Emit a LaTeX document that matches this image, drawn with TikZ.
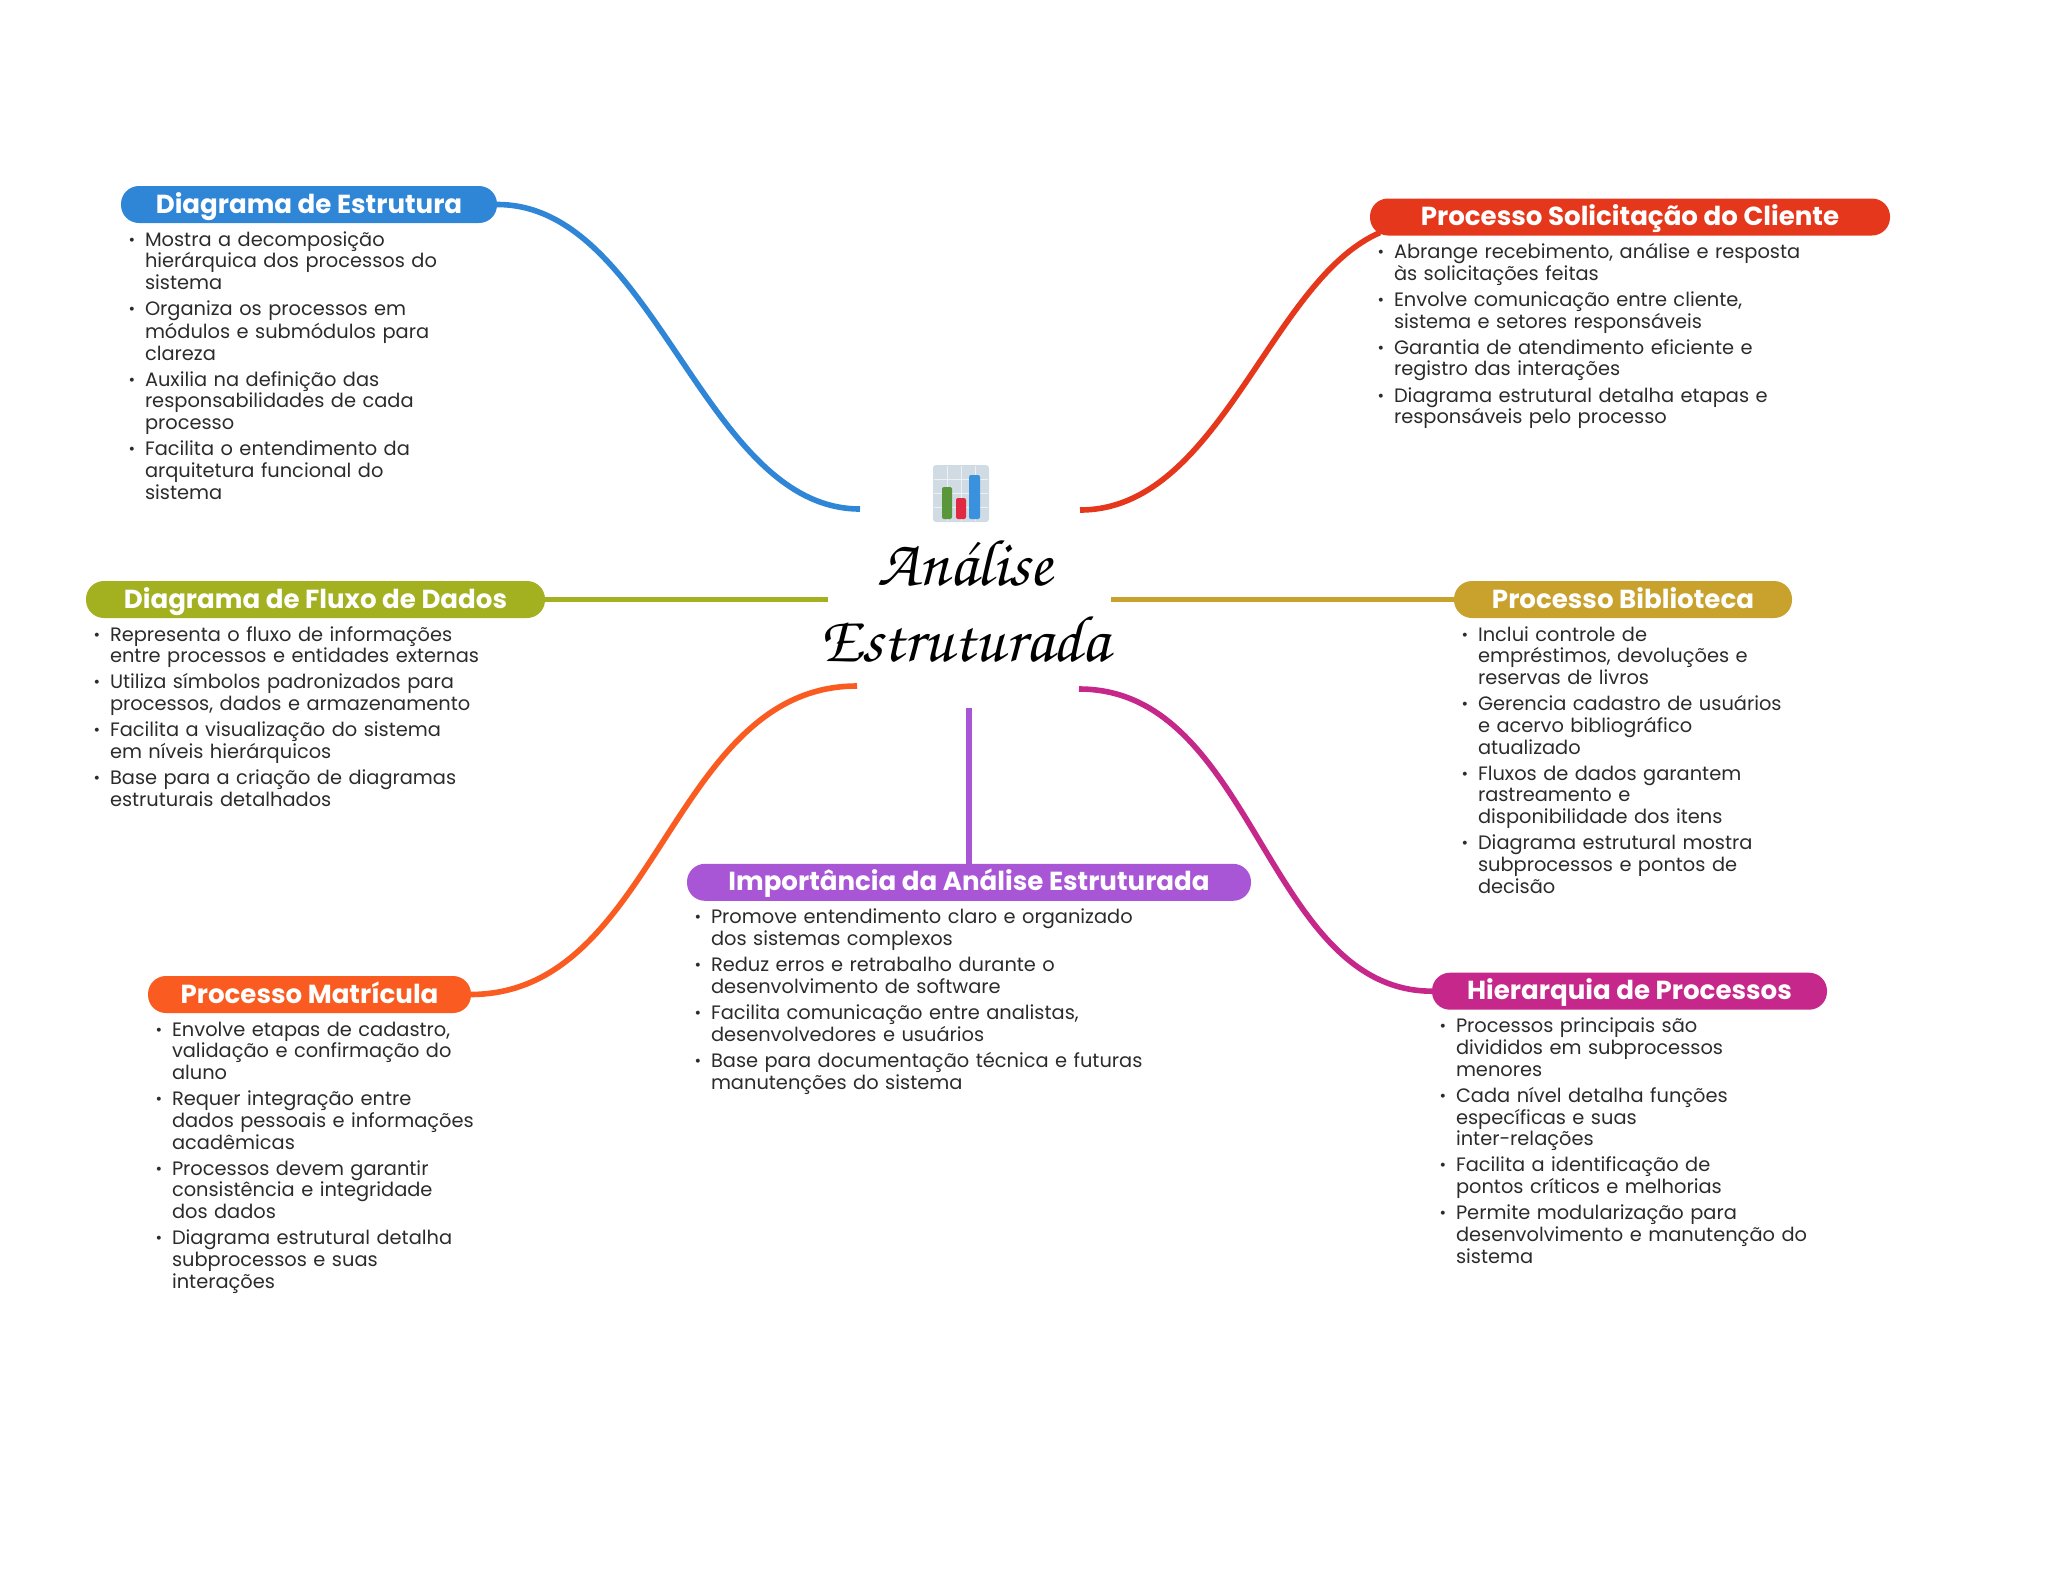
\documentclass[tikz,border=0pt]{standalone}
\usepackage{fontspec}
\setmainfont{Poppins}
\usetikzlibrary{positioning,backgrounds}
\definecolor{mmblue}{RGB}{47,134,214}
\definecolor{mmred}{RGB}{229,55,27}
\definecolor{mmolive}{RGB}{163,176,31}
\definecolor{mmgold}{RGB}{201,162,46}
\definecolor{mmorange}{RGB}{249,91,32}
\definecolor{mmpurple}{RGB}{169,86,214}
\definecolor{mmmagenta}{RGB}{198,39,138}
\definecolor{mmtext}{RGB}{43,43,43}
\definecolor{mmgrid}{RGB}{209,219,227}
\definecolor{mmbargreen}{RGB}{90,150,58}
\definecolor{mmbarred}{RGB}{224,42,66}
\definecolor{mmbarblue}{RGB}{58,146,222}
\newcommand{\bitem}[1]{\par\lineskip=0pt\noindent\hbox to 24pt{\hskip 7.5pt\raisebox{1pt}{\fontsize{16}{16}\selectfont •}\hfil}\parbox[t]{480pt}{\strut#1\strut}\par\vspace{4.4pt}}
\tikzset{
  headnode/.style={rectangle, rounded corners=18pt, minimum height=37pt, inner sep=0pt, text height=21pt, text depth=4pt, text=white, font=\fontsize{26.1}{30}\selectfont\bfseries},
  bodynode/.style={anchor=north west, inner sep=0pt, text width=520pt, align=left, text=mmtext, font=\fontsize{19.4}{21.7}\selectfont},
  branch/.style={line width=5.6pt},
}
\begin{document}
\begin{tikzpicture}[x=1pt,y=-1pt]
\useasboundingbox (0,0) rectangle (2048,1569);

% title and icon
\fill[mmgrid, rounded corners=3pt] (933,465) rectangle (989,522);
\foreach \gx in {947,961,975} {\draw[white!60!mmgrid, line width=1pt] (\gx,466) -- (\gx,521);}
\foreach \gy in {479,493,507} {\draw[white!60!mmgrid, line width=1pt] (934,\gy) -- (988,\gy);}
\fill[mmbargreen, rounded corners=2pt] (942,487) rectangle (952,519);
\fill[mmbarred, rounded corners=2pt] (956,498) rectangle (966,519);
\fill[mmbarblue, rounded corners=2pt] (969,475) rectangle (980,519);
\node[font=\fontencoding{T1}\fontfamily{pzc}\fontseries{mb}\fontshape{it}\fontsize{66}{76}\selectfont, align=center, inner sep=0pt] (titulo) at (965,600) {An\'alise\\Estruturada};

% branch heads
\node[headnode, fill=mmblue, minimum width=376pt] (estrutura) at (309,204.5) {Diagrama de Estrutura};
\node[headnode, fill=mmred, minimum width=520pt] (solicitacao) at (1630,217) {Processo Solicitação do Cliente};
\node[headnode, fill=mmolive, minimum width=459pt] (fluxo) at (315.5,599.5) {Diagrama de Fluxo de Dados};
\node[headnode, fill=mmgold, minimum width=338pt] (biblioteca) at (1623,599.5) {Processo Biblioteca};
\node[headnode, fill=mmorange, minimum width=323pt] (matricula) at (309.5,994.5) {Processo Matrícula};
\node[headnode, fill=mmpurple, minimum width=564pt] (importancia) at (969,882.3) {Importância da Análise Estruturada};
\node[headnode, fill=mmmagenta, minimum width=395pt] (hierarquia) at (1629.5,991.2) {Hierarquia de Processos};

% free ends next to the title
\coordinate (estruturaend) at (860,509);
\coordinate (solicitacaoend) at (1080,510);
\coordinate (fluxoend) at (828,599.5);
\coordinate (bibliotecaend) at (1111,599.5);
\coordinate (matriculaend) at (857,686);
\coordinate (importanciaend) at (969,708);
\coordinate (hierarquiaend) at (1079,689);

\begin{scope}[on background layer]
\draw[branch, color=mmblue] (estrutura.east) .. controls (655,204.5) and (703,509) .. (estruturaend);
\draw[branch, color=mmred] (solicitacaoend) .. controls (1220,510) and (1270,280) .. ([xshift=10pt,yshift=3pt]solicitacao.south west);
\draw[branch, color=mmolive] (fluxo.east) -- (fluxoend);
\draw[branch, color=mmgold] (biblioteca.west) -- (bibliotecaend);
\draw[branch, color=mmorange] (matricula.east) .. controls (658,993.5) and (670,686) .. (matriculaend);
\draw[branch, color=mmpurple] (importancia.north) -- (importanciaend);
\draw[branch, color=mmmagenta] (hierarquia.west) .. controls (1265,990.5) and (1255,689) .. (hierarquiaend);
\end{scope}

% branch texts
\node[bodynode, below right=1pt and 0pt of estrutura.south west] (estruturatxt) {%
\bitem{Mostra a decomposição\\hierárquica dos processos do\\sistema}
\bitem{Organiza os processos em\\módulos e submódulos para\\clareza}
\bitem{Auxilia na definição das\\responsabilidades de cada\\processo}
\bitem{Facilita o entendimento da\\arquitetura funcional do\\sistema}};

\node[bodynode, below right=1pt and 0pt of solicitacao.south west] (solicitacaotxt) {%
\bitem{Abrange recebimento, análise e resposta\\às solicitações feitas}
\bitem{Envolve comunicação entre cliente,\\sistema e setores responsáveis}
\bitem{Garantia de atendimento eficiente e\\registro das interações}
\bitem{Diagrama estrutural detalha etapas e\\responsáveis pelo processo}};

\node[bodynode, below right=1pt and 0pt of fluxo.south west] (fluxotxt) {%
\bitem{Representa o fluxo de informações\\entre processos e entidades externas}
\bitem{Utiliza símbolos padronizados para\\processos, dados e armazenamento}
\bitem{Facilita a visualização do sistema\\em níveis hierárquicos}
\bitem{Base para a criação de diagramas\\estruturais detalhados}};

\node[bodynode, below right=1pt and 0pt of biblioteca.south west] (bibliotecatxt) {%
\bitem{Inclui controle de\\empréstimos, devoluções e\\reservas de livros}
\bitem{Gerencia cadastro de usuários\\e acervo bibliográfico\\atualizado}
\bitem{Fluxos de dados garantem\\rastreamento e\\disponibilidade dos itens}
\bitem{Diagrama estrutural mostra\\subprocessos e pontos de\\decisão}};

\node[bodynode, below right=1pt and 0pt of matricula.south west] (matriculatxt) {%
\bitem{Envolve etapas de cadastro,\\validação e confirmação do\\aluno}
\bitem{Requer integração entre\\dados pessoais e informações\\acadêmicas}
\bitem{Processos devem garantir\\consistência e integridade\\dos dados}
\bitem{Diagrama estrutural detalha\\subprocessos e suas\\interações}};

\node[bodynode, below right=1pt and 0pt of importancia.south west] (importanciatxt) {%
\bitem{Promove entendimento claro e organizado\\dos sistemas complexos}
\bitem{Reduz erros e retrabalho durante o\\desenvolvimento de software}
\bitem{Facilita comunicação entre analistas,\\desenvolvedores e usuários}
\bitem{Base para documentação técnica e futuras\\manutenções do sistema}};

\node[bodynode, below right=1pt and 0pt of hierarquia.south west] (hierarquiatxt) {%
\bitem{Processos principais são\\divididos em subprocessos\\menores}
\bitem{Cada nível detalha funções\\específicas e suas\\inter-relações}
\bitem{Facilita a identificação de\\pontos críticos e melhorias}
\bitem{Permite modularização para\\desenvolvimento e manutenção do\\sistema}};
\end{tikzpicture}
\end{document}
